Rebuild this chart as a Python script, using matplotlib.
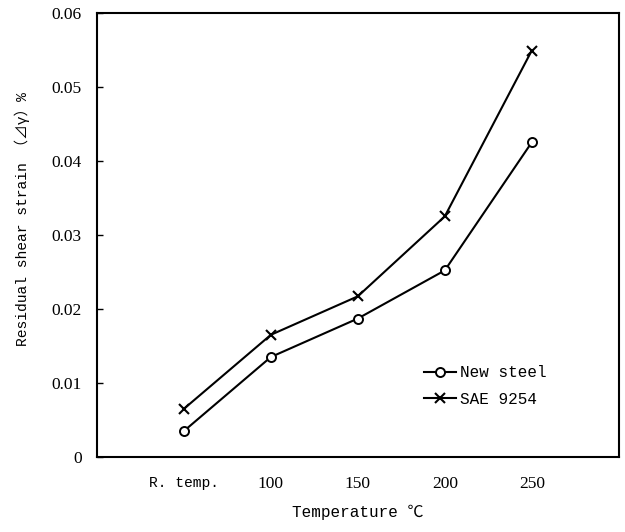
import numpy as np
import matplotlib.pyplot as plt

temps = ['R. temp.', '100', '150', '200', '250']
new_steel = [0.0035, 0.0135, 0.0187, 0.0252, 0.0425]
sae_9254 = [0.0065, 0.0165, 0.0217, 0.0325, 0.0549]

mono = ['Liberation Mono', 'Noto Sans CJK JP', 'DejaVu Sans']
serif = ['Liberation Serif', 'DejaVu Serif']

x = np.arange(len(temps))

fig = plt.figure(figsize=(6.25, 5.32), dpi=100)
ax = fig.add_axes([0.155, 0.141, 0.835, 0.835])

ax.plot(x, new_steel, color='black', lw=1.5, marker='o', ms=6.5,
        mfc='white', mec='black', mew=1.4, label='New steel')
ax.plot(x, sae_9254, color='black', lw=1.5, marker='x', ms=6.5,
        mew=1.5, label='SAE 9254')

ax.set_xlim(-1, 5)
ax.set_ylim(0, 0.06)
ax.set_xticks(x)
ax.set_xticklabels(temps)
ax.set_yticks(np.arange(0, 0.061, 0.01))
ax.set_yticklabels(['0', '0.01', '0.02', '0.03', '0.04', '0.05', '0.06'])

for lab in ax.get_yticklabels():
    lab.set_family(serif)
    lab.set_fontsize(12.5)
for i, lab in enumerate(ax.get_xticklabels()):
    lab.set_family(mono if i == 0 else serif)
    lab.set_fontsize(10.5 if i == 0 else 12.5)

ax.tick_params(axis='y', direction='in', length=4, width=1, pad=11)
ax.tick_params(axis='x', length=0, pad=14)
for s in ax.spines.values():
    s.set_linewidth(1.5)

ax.set_xlabel('Temperature ℃', family=mono, fontsize=11.5, labelpad=9)
ax.set_ylabel('Residual shear strain （⊿γ）%', family=mono, fontsize=10.5)
ax.yaxis.set_label_coords(-0.129, 0.536)

ax.legend(loc='lower right', bbox_to_anchor=(0.89, 0.08), frameon=False,
          handlelength=2.0, handletextpad=0.3, labelspacing=0.75,
          prop={'family': mono, 'size': 11.5})

fig.savefig('out.png', dpi=100)
